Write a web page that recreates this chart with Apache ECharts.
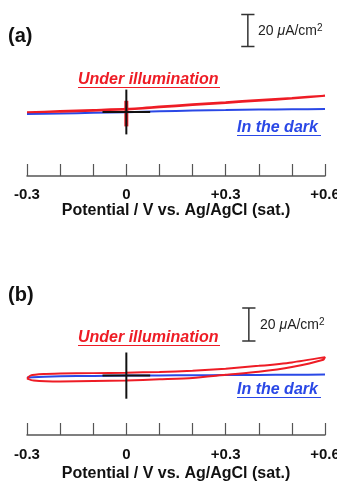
<!DOCTYPE html>
<html>
<head>
<meta charset="utf-8">
<script src="https://cdn.jsdelivr.net/npm/echarts@6/dist/echarts.min.js"></script>
<style>
html,body{margin:0;padding:0;background:#fff;}
#chart{width:337px;height:489px;}
</style>
</head>
<body>
<div id="chart"></div>
<script>
// ---- Data (potential in V vs Ag/AgCl, current density in µA/cm²) ----
const tickLabels = ['-0.3', '0', '+0.3', '+0.6'];
const axisName = 'Potential / V vs. Ag/AgCl (sat.)';

// Panel (a)
const potentialA = [-0.3, -0.2, -0.1, 0, 0.1, 0.2, 0.3, 0.4, 0.5, 0.6];
const darkA = [-1.2, -0.9, -0.5, -0.1, 0.4, 0.9, 1.2, 1.5, 1.7, 1.9];
const illumFwdA = [-0.2, 0.6, 1.3, 2.0, 3.4, 4.8, 6.1, 7.5, 8.8, 10.2];
const potentialRevA = [0.6, 0.5, 0.4, 0.3, 0.2, 0.1, 0, -0.1, -0.2, -0.3];
const illumRevA = [10.2, 8.4, 7.0, 5.7, 4.3, 2.9, 1.6, 0.8, 0.1, -0.2];
const spikeV_A = [0, 0];
const spikeI_A = [7, -9];

// Panel (b)
const potentialB = [-0.3, -0.2, -0.1, 0, 0.1, 0.2, 0.3, 0.4, 0.5, 0.6];
const darkB = [-1.2, -0.4, -0.2, 0, 0.1, 0.2, 0.3, 0.4, 0.5, 0.6];
const illumFwdV_B = [-0.3, -0.29, -0.25, -0.2, -0.1, 0, 0.1, 0.2, 0.3, 0.4, 0.5, 0.6];
const illumFwdI_B = [-1.8, 0.0, 0.9, 1.2, 1.5, 1.8, 2.2, 2.9, 4.2, 5.9, 8.0, 11.2];
const illumRevV_B = [0.595, 0.5, 0.4, 0.3, 0.2, 0.1, 0, -0.1, -0.2, -0.28, -0.3];
const illumRevI_B = [9.6, 5.2, 2.3, 0.5, -1.4, -2.2, -3.0, -3.3, -3.6, -3.0, -1.8];

// Origin cross (V, µA/cm²) and 20 µA/cm² scale bars
const crossHalfV = 0.072;
const crossHalfI = 14;
const scaleBarA = { v: 0.367, i0: 41, i1: 61 };
const scaleBarB = { v: 0.370, i0: 21, i1: 41 };
const scaleCapHalfV = 0.02;

const RED = '#ee1c25';
const BLUE = '#2a48e6';
const FONT = '"Liberation Sans", Arial, Helvetica, sans-serif';

function pairs(xs, ys) { return xs.map((x, k) => [x, ys[k]]); }

function xAxisCfg(gi, nameGap, margin) {
  return {
    gridIndex: gi, type: 'value', min: -0.3, max: 0.6, interval: 0.1,
    name: axisName, nameLocation: 'middle', nameGap: nameGap,
    nameTextStyle: { fontFamily: FONT, fontWeight: 'bold', fontSize: 16, color: '#111' },
    axisLine: { show: true, onZero: false, lineStyle: { color: '#555', width: 1.5 } },
    axisTick: { show: true, inside: true, length: 12, lineStyle: { color: '#555', width: 1.2 } },
    splitLine: { show: false },
    axisLabel: {
      margin: margin, fontFamily: FONT, fontWeight: 'bold', fontSize: 15, color: '#111',
      showMinLabel: true, showMaxLabel: true, hideOverlap: false,
      formatter: function (v) {
        const r = Math.round(v * 10);
        if (r === -3) return tickLabels[0];
        if (r === 0) return tickLabels[1];
        if (r === 3) return tickLabels[2];
        if (r === 6) return tickLabels[3];
        return '';
      }
    }
  };
}
function yAxisCfg(gi, min, max) {
  return { gridIndex: gi, type: 'value', min: min, max: max, show: false, splitLine: { show: false } };
}
function lineSeries(gi, data, color, width, z, smooth) {
  return {
    type: 'line', xAxisIndex: gi, yAxisIndex: gi, data: data,
    showSymbol: false, symbol: 'none', smooth: smooth || 0, z: z || 2,
    lineStyle: { color: color, width: width }, animation: false, silent: true
  };
}
function crossSeries(gi) {
  return [
    lineSeries(gi, [[-crossHalfV, 0], [crossHalfV, 0]], '#111', 2, 10),
    lineSeries(gi, [[0, -crossHalfI], [0, crossHalfI]], '#111', 2, 10)
  ];
}
function scaleSeries(gi, sb) {
  return [
    lineSeries(gi, [[sb.v, sb.i0], [sb.v, sb.i1]], '#333', 1.5, 10),
    lineSeries(gi, [[sb.v - scaleCapHalfV, sb.i0], [sb.v + scaleCapHalfV, sb.i0]], '#333', 1.5, 10),
    lineSeries(gi, [[sb.v - scaleCapHalfV, sb.i1], [sb.v + scaleCapHalfV, sb.i1]], '#333', 1.5, 10)
  ];
}
function scaleLabel(x, yc) {
  return {
    type: 'text', x: x, y: yc,
    style: {
      text: '20 {i|μ}A/cm{s|2}',
      font: '14px ' + FONT, fill: '#222', textVerticalAlign: 'middle',
      rich: {
        i: { font: 'italic 14px ' + FONT, fill: '#222' },
        s: { font: '10px ' + FONT, fill: '#222', verticalAlign: 'top', padding: [0, 0, 5, 0] }
      }
    }
  };
}
function underlinedText(text, x, yc, color, width) {
  return {
    type: 'group', children: [
      { type: 'text', x: x, y: yc, style: { text: text, fill: color, font: 'italic bold 16px ' + FONT, textVerticalAlign: 'middle' } },
      { type: 'line', shape: { x1: x, y1: yc + 7.5, x2: x + width, y2: yc + 7.5 }, style: { stroke: color, lineWidth: 1.2 } }
    ]
  };
}

const chart = echarts.init(document.getElementById('chart'), null, { renderer: 'canvas' });
const option = {
  backgroundColor: '#fff',
  animation: false,
  grid: [
    { left: 27, right: 12, top: 12, height: 164, containLabel: false, outerBoundsMode: 'none' },
    { left: 27, right: 12, top: 303, height: 132, containLabel: false, outerBoundsMode: 'none' }
  ],
  xAxis: [xAxisCfg(0, 26, 11), xAxisCfg(1, 31, 12)],
  yAxis: [yAxisCfg(0, -40, 62.5), yAxisCfg(1, -36, 44)],
  series: [
    lineSeries(0, pairs(potentialA, darkA), BLUE, 2, 2, 0.2),
    lineSeries(0, pairs(potentialA, illumFwdA).concat(pairs(potentialRevA, illumRevA)), RED, 2, 3, 0.2),
    lineSeries(0, pairs(spikeV_A, spikeI_A), RED, 4, 3),
    ...crossSeries(0),
    ...scaleSeries(0, scaleBarA),
    lineSeries(1, pairs(potentialB, darkB), BLUE, 2, 2, 0.2),
    lineSeries(1, pairs(illumFwdV_B, illumFwdI_B).concat(pairs(illumRevV_B, illumRevI_B)), RED, 2, 3, 0.2),
    ...crossSeries(1),
    ...scaleSeries(1, scaleBarB)
  ],
  graphic: [
    { type: 'text', x: 8, y: 36, style: { text: '(a)', font: 'bold 20px ' + FONT, fill: '#111', textVerticalAlign: 'middle' } },
    { type: 'text', x: 8, y: 295, style: { text: '(b)', font: 'bold 20px ' + FONT, fill: '#111', textVerticalAlign: 'middle' } },
    scaleLabel(258, 31),
    scaleLabel(260, 325),
    underlinedText('Under illumination', 78, 80, RED, 142),
    underlinedText('In the dark', 237, 128, BLUE, 84),
    underlinedText('Under illumination', 78, 338, RED, 142),
    underlinedText('In the dark', 237, 390, BLUE, 84)
  ]
};
chart.setOption(option);
</script>
</body>
</html>
